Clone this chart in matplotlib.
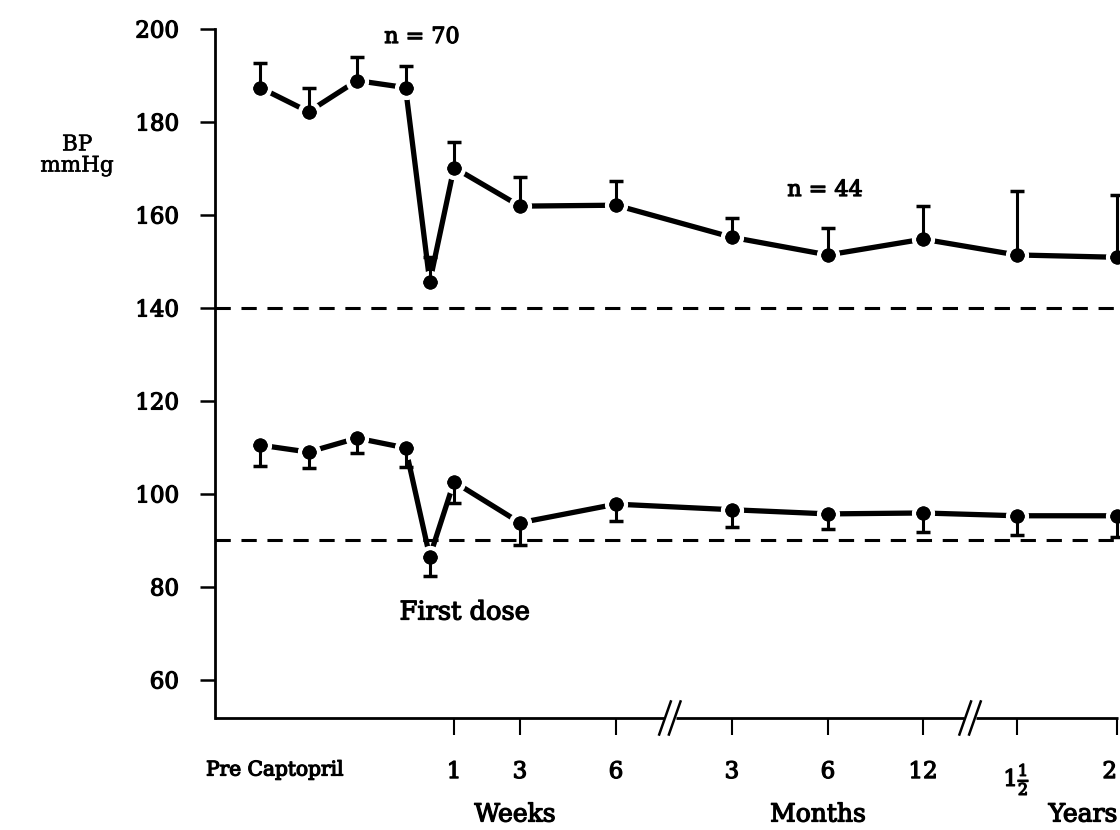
import matplotlib
matplotlib.use("Agg")
import matplotlib.pyplot as plt
import matplotlib.patheffects as pe
from matplotlib.transforms import blended_transform_factory

plt.rcParams['font.family'] = ['DejaVu Serif']
plt.rcParams['mathtext.fontset'] = 'dejavuserif'

# ---- data ----
time_points = ["Pre1", "Pre2", "Pre3", "Pre4", "First dose", "1 wk", "3 wk", "6 wk",
               "3 mo", "6 mo", "12 mo", "1.5 yr", "2 yr"]
x_pos = [1, 2, 3, 4, 4.5, 5.0, 6.36, 8.34, 10.73, 12.71, 14.67, 16.6, 18.67]
systolic = [187.4, 182.2, 188.9, 187.4, 145.6, 170.2, 161.9, 162.1, 155.2, 151.4, 154.8, 151.4, 150.9]
systolic_upper = [192.7, 187.4, 194.0, 192.1, 151.0, 175.8, 168.1, 167.2, 159.3, 157.1, 161.9, 165.1, 164.2]
diastolic = [110.5, 109.0, 112.0, 109.9, 86.5, 102.6, 93.8, 97.8, 96.6, 95.7, 95.9, 95.3, 95.3]
diastolic_lower = [106.0, 105.6, 108.8, 105.8, 82.4, 98.1, 89.0, 94.2, 92.9, 92.4, 91.8, 91.2, 90.8]
ref_lines = [140, 90]
tick_pos = [5.0, 6.36, 8.34, 10.73, 12.71, 14.67, 16.6, 18.67]
tick_labels = ["1", "3", "6", "3", "6", "12", r"1$\frac{1}{2}$", "2"]
break_pos = [9.45, 15.64]
y_ticks = [60, 80, 100, 120, 140, 160, 180, 200]

thick = [pe.withStroke(linewidth=0.9, foreground='black')]

fig = plt.figure(figsize=(11.2, 8.3), dpi=100)
ax = fig.add_axes([215/1120, 112/830, 903/1120, 689/830])
ax.set_xlim(0.072, 18.69)
ax.set_ylim(51.8, 200)

for spine in ['top', 'right', 'bottom']:
    ax.spines[spine].set_visible(False)
ax.spines['left'].set_linewidth(2)

# reference dashed lines
for r in ref_lines:
    ax.plot([0.072, 18.75], [r, r], color='black', lw=2.2, ls=(0, (5, 3.5)), clip_on=False, zorder=1)

# series
for vals in (systolic, diastolic):
    ax.plot(x_pos, vals, color='black', lw=3.8, zorder=2, clip_on=False)
    ax.plot(x_pos, vals, ls='none', marker='o', ms=13.5, mfc='black', mec='white', mew=3.2,
            zorder=3, clip_on=False)

# one-sided error bars
sys_err = [[0]*len(systolic), [u - v for u, v in zip(systolic_upper, systolic)]]
dia_err = [[v - l for v, l in zip(diastolic, diastolic_lower)], [0]*len(diastolic)]
ax.errorbar(x_pos, systolic, yerr=sys_err, fmt='none', ecolor='black', elinewidth=2.2,
            capsize=5, capthick=2.5, zorder=4, clip_on=False)
ax.errorbar(x_pos, diastolic, yerr=dia_err, fmt='none', ecolor='black', elinewidth=2.2,
            capsize=5, capthick=2.5, zorder=4, clip_on=False)
ax.plot(x_pos, systolic, ls='none', marker='o', ms=10, mfc='black', mec='none', zorder=5, clip_on=False)
ax.plot(x_pos, diastolic, ls='none', marker='o', ms=10, mfc='black', mec='none', zorder=5, clip_on=False)

# y axis
ax.set_yticks(y_ticks)
ax.set_yticklabels([str(v) for v in y_ticks], fontsize=16.5)
ax.tick_params(axis='y', direction='out', length=11, width=1.8, pad=15)
for t in ax.get_yticklabels():
    t.set_path_effects(thick)

# x axis
ax.set_xticks(tick_pos)
ax.set_xticklabels(tick_labels, fontsize=16.5)
ax.tick_params(axis='x', direction='out', length=12, width=1.5, pad=19)
for t in ax.get_xticklabels():
    t.set_path_effects(thick)
ax.get_xticklabels()[-1].set_horizontalalignment('right')
ax.get_xticklabels()[-1].set_x(tick_pos[-1] + 0.06)

trans = blended_transform_factory(ax.transData, ax.transAxes)
segs = [(0.072, break_pos[0] - 0.12), (break_pos[0] + 0.12, break_pos[1] - 0.12), (break_pos[1] + 0.12, 18.69)]
for a, b in segs:
    ax.plot([a, b], [0, 0], color='black', lw=2, transform=trans, clip_on=False, solid_capstyle='butt')
for bp in break_pos:
    for off in (-0.1, 0.1):
        ax.plot([bp + off - 0.12, bp + off + 0.12], [-0.024, 0.024], color='black', lw=1.8,
                transform=trans, clip_on=False)

# text
texts = [
    (275, 770, "Pre Captopril", 14.5),
    (515, 815, "Weeks", 18),
    (818, 815, "Months", 18),
    (1083, 815, "Years", 18),
    (422, 37, "n = 70", 16),
    (825, 190, "n = 44", 16),
    (465, 612, "First dose", 18.5),
]
for px, py, s, fs in texts:
    fig.text(px/1120, 1 - py/830, s, ha='center', va='center', fontsize=fs, path_effects=thick)
fig.text(77/1120, 1 - 155/830, "BP\nmmHg", ha='center', va='center', fontsize=15.5,
         linespacing=0.95, path_effects=[pe.withStroke(linewidth=0.4, foreground='black')])

fig.savefig("out.png", dpi=100)
